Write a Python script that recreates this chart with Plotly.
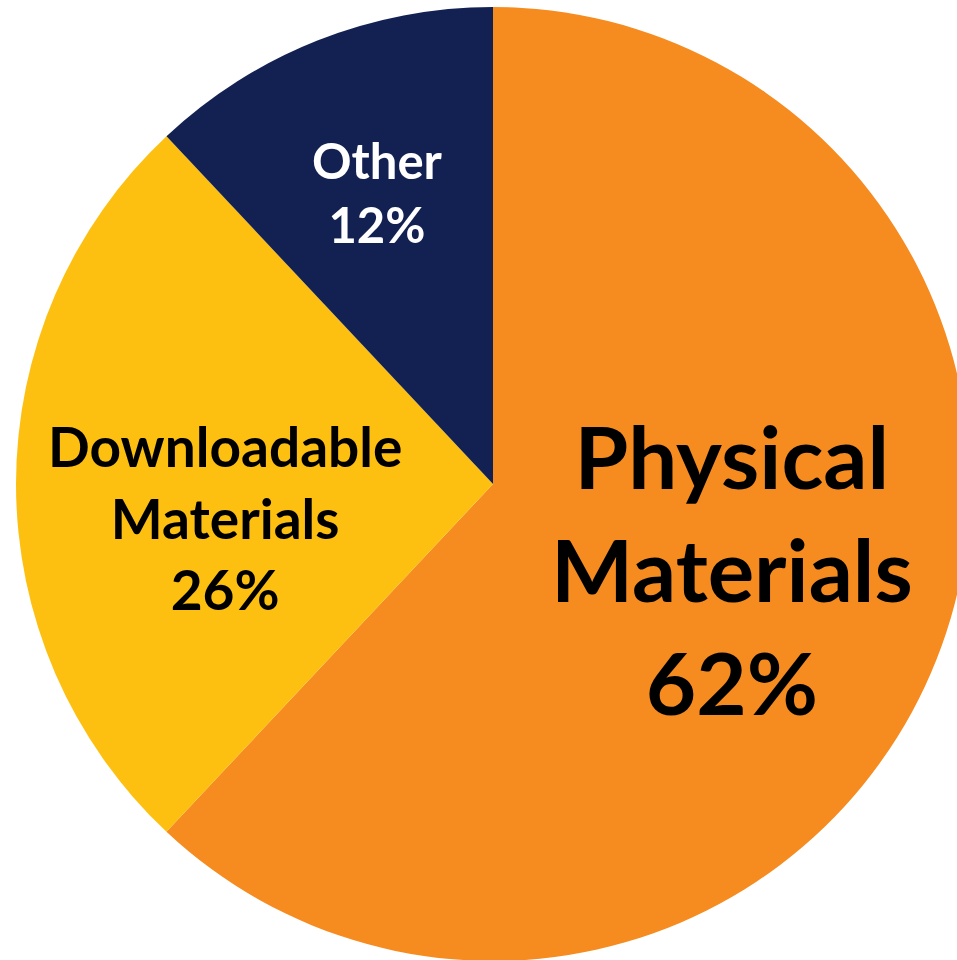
import plotly.graph_objects as go

labels = ["Physical Materials", "Downloadable Materials", "Other"]
values = [62, 26, 12]
colors = ["#F68B1F", "#FDC010", "#132152"]
text_colors = ["#000000", "#000000", "#FFFFFF"]
font_sizes = [87, 55, 49]

# figure canvas (larger than the window so the pie runs off the right/bottom edges)
W, H = 986, 968
cy, r = 484, 477
label_px = [(732, 568), (225, 517), (377, 192)]

fig = go.Figure(go.Pie(
    labels=labels,
    values=values,
    marker=dict(colors=colors, line=dict(width=0)),
    sort=False,
    direction="clockwise",
    rotation=0,
    textinfo="none",
    hoverinfo="label+percent",
    domain=dict(x=[0, 1], y=[(H - cy - r) / H, (H - cy + r) / H]),
))

annotations = []
for lab, val, tc, fs, (px, py) in zip(labels, values, text_colors, font_sizes, label_px):
    annotations.append(dict(
        text=lab.replace(" ", "<br>") + f"<br>{val}%",
        x=px / W, y=1 - py / H, xref="paper", yref="paper",
        xanchor="center", yanchor="middle", showarrow=False,
        font=dict(family="Lato", size=fs, color=tc, weight="bold"),
        align="center",
    ))

fig.update_layout(
    width=W, height=H,
    margin=dict(l=0, r=0, t=0, b=0),
    paper_bgcolor="white",
    showlegend=False,
    annotations=annotations,
)

fig.write_html(
    "out.html",
    config={"displayModeBar": False},
    post_script="document.body.style.margin='0';document.documentElement.style.overflow='hidden';",
)
